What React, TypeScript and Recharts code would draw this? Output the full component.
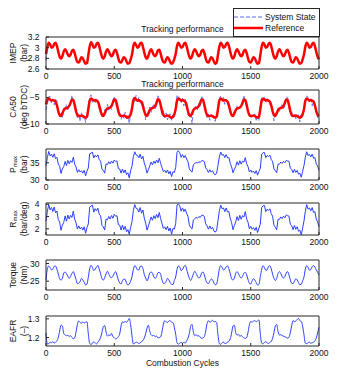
import { LineChart, Line, XAxis, YAxis, Legend } from 'recharts';

// cycle grid: one sample every 10 combustion cycles, 0..2000
const cycleStep = 10;
const xTicks = [0, 500, 1000, 1500, 2000];

const imepRef = [
  2.88, 3.02, 3.09, 3.06, 3.0, 3.01, 3.07, 3.09, 3.03, 2.92, 2.83, 2.79, 2.84, 2.93, 2.97, 2.93, 2.87, 2.84, 2.87, 2.94, 2.96, 2.9, 2.8, 2.73, 2.72, 2.77, 2.82, 2.8, 2.74, 2.7, 2.71,
  2.86, 3.02, 3.1, 3.06, 3.0, 3.01, 3.07, 3.09, 3.03, 2.92, 2.83, 2.79, 2.84, 2.93, 2.97, 2.93, 2.87, 2.84, 2.87, 2.94, 2.96, 2.9, 2.8, 2.73, 2.72, 2.77, 2.82, 2.8, 2.74, 2.7, 2.71, 2.78,
  2.87, 3.03, 3.09, 3.05, 3.0, 3.02, 3.08, 3.09, 3.02, 2.91, 2.82, 2.79, 2.85, 2.93, 2.97, 2.92, 2.86, 2.84, 2.88, 2.95, 2.96, 2.89, 2.79, 2.73, 2.72, 2.78, 2.82, 2.79, 2.73, 2.7, 2.72, 2.79,
  2.88, 3.03, 3.09, 3.05, 3.0, 3.01, 3.07, 3.09, 3.03, 2.92, 2.83, 2.79, 2.84, 2.93, 2.97, 2.93, 2.87, 2.84, 2.87, 2.94, 2.96, 2.9, 2.8, 2.73, 2.72, 2.77, 2.82, 2.8, 2.74, 2.7, 2.72,
  2.87, 3.02, 3.09, 3.06, 3.0, 3.01, 3.07, 3.09, 3.03, 2.92, 2.83, 2.79, 2.84, 2.93, 2.97, 2.93, 2.87, 2.84, 2.87, 2.94, 2.96, 2.9, 2.8, 2.73, 2.72, 2.77, 2.82, 2.8, 2.74, 2.7, 2.71,
  2.86, 3.02, 3.09, 3.06, 3.0, 3.01, 3.07, 3.09, 3.03, 2.92, 2.83, 2.79, 2.84, 2.93, 2.97, 2.93, 2.87, 2.84, 2.87, 2.94, 2.96, 2.9, 2.8, 2.73, 2.72, 2.77, 2.82, 2.8, 2.74, 2.7, 2.71, 2.78,
  2.87, 3.02, 3.09, 3.06, 3.0, 3.01, 3.07, 3.09, 3.03, 2.92, 2.83, 2.78,
];

const imepState = [
  2.76, 3.0, 3.09, 3.05, 3.0, 3.02, 3.07, 3.08, 3.03, 2.91, 2.83, 2.8, 2.84, 2.92, 2.97, 2.93, 2.86, 2.84, 2.88, 2.94, 2.95, 2.9, 2.79, 2.74, 2.72, 2.77, 2.81, 2.8, 2.74, 2.71, 2.71,
  2.85, 3.02, 3.09, 3.06, 3.01, 3.01, 3.06, 3.09, 3.02, 2.92, 2.84, 2.79, 2.84, 2.93, 2.96, 2.93, 2.87, 2.85, 2.87, 2.93, 2.96, 2.9, 2.81, 2.73, 2.73, 2.77, 2.82, 2.79, 2.74, 2.71, 2.71, 2.77,
  2.87, 3.02, 3.09, 3.05, 3.01, 3.02, 3.07, 3.09, 3.02, 2.92, 2.82, 2.8, 2.85, 2.92, 2.97, 2.92, 2.86, 2.85, 2.88, 2.94, 2.96, 2.89, 2.8, 2.73, 2.72, 2.77, 2.82, 2.79, 2.74, 2.7, 2.72, 2.78,
  2.87, 3.03, 3.08, 3.05, 3.0, 3.01, 3.07, 3.08, 3.03, 2.92, 2.83, 2.8, 2.84, 2.93, 2.96, 2.93, 2.87, 2.83, 2.87, 2.94, 2.96, 2.9, 2.8, 2.74, 2.72, 2.77, 2.81, 2.8, 2.74, 2.71, 2.72,
  2.86, 3.02, 3.09, 3.06, 3.0, 3.02, 3.07, 3.09, 3.02, 2.92, 2.83, 2.79, 2.85, 2.93, 2.97, 2.92, 2.87, 2.84, 2.88, 2.94, 2.95, 2.9, 2.8, 2.73, 2.72, 2.78, 2.82, 2.8, 2.73, 2.7, 2.71,
  2.86, 3.02, 3.09, 3.05, 3.0, 3.01, 3.07, 3.09, 3.03, 2.91, 2.83, 2.8, 2.84, 2.93, 2.97, 2.93, 2.86, 2.84, 2.87, 2.94, 2.96, 2.9, 2.8, 2.73, 2.72, 2.77, 2.82, 2.8, 2.74, 2.7, 2.71, 2.79,
  2.87, 3.02, 3.09, 3.06, 3.0, 3.01, 3.07, 3.08, 3.03, 2.92, 2.83, 2.79,
];

const ca50Ref = [
  -6.3, -5.5, -5.2, -5.4, -5.6, -5.5, -5.6, -5.8, -6.5, -7.6, -8.3, -8.5, -8.0, -7.4, -7.1, -7.0, -6.9, -6.6, -6.0, -5.4, -5.5, -6.4, -7.6, -8.3, -8.5, -8.5, -8.4, -8.5, -8.7, -8.8, -8.6,
  -7.2, -5.6, -5.2, -5.4, -5.6, -5.5, -5.6, -5.8, -6.5, -7.6, -8.3, -8.5, -8.0, -7.4, -7.1, -7.0, -6.9, -6.6, -6.0, -5.4, -5.5, -6.4, -7.6, -8.3, -8.5, -8.5, -8.4, -8.5, -8.7, -8.8, -8.6, -8.2,
  -7.1, -5.5, -5.1, -5.4, -5.6, -5.5, -5.7, -5.8, -6.6, -7.6, -8.3, -8.5, -8.0, -7.4, -7.1, -7.0, -6.9, -6.6, -6.0, -5.3, -5.5, -6.4, -7.6, -8.3, -8.5, -8.5, -8.4, -8.5, -8.7, -8.8, -8.6, -8.2,
  -7.2, -5.6, -5.2, -5.4, -5.6, -5.5, -5.6, -5.8, -6.5, -7.6, -8.3, -8.5, -8.0, -7.4, -7.1, -7.0, -6.9, -6.6, -6.0, -5.4, -5.5, -6.4, -7.6, -8.3, -8.5, -8.5, -8.4, -8.5, -8.7, -8.8, -8.6,
  -7.2, -5.6, -5.2, -5.4, -5.6, -5.5, -5.6, -5.8, -6.5, -7.6, -8.3, -8.5, -8.0, -7.4, -7.1, -7.0, -6.9, -6.6, -6.0, -5.4, -5.5, -6.4, -7.6, -8.3, -8.5, -8.5, -8.4, -8.5, -8.7, -8.8, -8.6,
  -7.2, -5.6, -5.2, -5.4, -5.6, -5.5, -5.6, -5.8, -6.5, -7.6, -8.3, -8.5, -8.0, -7.4, -7.1, -7.0, -6.9, -6.6, -6.0, -5.4, -5.5, -6.4, -7.6, -8.3, -8.5, -8.5, -8.4, -8.5, -8.7, -8.8, -8.6, -8.2,
  -7.2, -5.6, -5.2, -5.4, -5.6, -5.5, -5.6, -5.8, -6.5, -7.6, -8.3, -8.5,
];

const ca50State = [
  -7.4, -6.2, -4.9, -4.8, -6.0, -5.3, -6.4, -5.4, -5.6, -8.1, -8.6, -7.9, -8.9, -7.0, -7.3, -6.3, -7.5, -6.3, -6.4, -4.6, -6.0, -6.2, -7.0, -9.0, -8.2, -9.5, -7.9, -8.9, -8.5, -9.7, -8.0,
  -7.6, -5.0, -4.5, -5.9, -5.3, -6.1, -5.1, -6.0, -7.3, -7.0, -7.9, -8.8, -7.3, -7.9, -6.3, -7.4, -6.6, -7.3, -5.5, -4.8, -5.8, -7.2, -7.2, -7.8, -9.1, -8.2, -8.9, -7.8, -9.1, -8.4, -9.9, -8.0,
  -6.9, -5.2, -5.8, -4.6, -5.9, -5.0, -6.0, -6.5, -5.9, -7.3, -9.2, -8.0, -8.2, -6.8, -7.8, -6.6, -6.4, -7.1, -6.6, -4.7, -5.2, -6.8, -8.2, -7.5, -8.8, -7.9, -9.2, -8.3, -8.1, -9.3, -8.3, -8.8,
  -6.9, -4.5, -5.1, -4.8, -6.1, -5.0, -6.6, -5.3, -5.9, -8.3, -8.4, -8.0, -9.9, -7.2, -7.0, -6.5, -7.3, -6.1, -6.6, -4.7, -5.1, -6.4, -7.3, -8.9, -8.1, -9.3, -8.6, -8.7, -8.9, -9.5, -8.2,
  -7.9, -5.3, -4.7, -5.7, -5.0, -6.3, -5.3, -5.8, -7.0, -7.4, -8.1, -8.6, -7.6, -7.6, -6.6, -7.2, -6.9, -7.0, -5.8, -4.6, -5.9, -6.9, -7.5, -8.0, -8.9, -8.4, -8.7, -8.1, -9.3, -8.5, -9.4,
  -6.7, -5.0, -5.9, -4.8, -5.7, -5.2, -6.2, -6.3, -6.1, -7.0, -9.4, -7.8, -8.4, -6.9, -7.6, -6.8, -6.2, -7.3, -6.4, -4.9, -5.0, -6.9, -8.0, -7.7, -8.6, -8.1, -9.0, -8.4, -8.3, -9.6, -8.0, -8.7,
  -6.9, -5.9, -4.7, -5.0, -5.8, -5.1, -6.6, -5.5, -5.9, -7.8, -8.8, -8.2,
];

const pmax = [
  34.2, 36.5, 38.3, 37.0, 37.5, 36.6, 37.6, 36.2, 36.6, 34.6, 34.0, 31.9, 33.2, 33.9, 35.4, 34.2, 35.7, 34.7, 35.6, 35.1, 36.6, 34.6, 33.8, 32.2, 33.0, 32.3, 32.7, 32.0, 32.8, 31.2, 32.6,
  33.5, 37.6, 37.8, 38.1, 36.4, 37.2, 36.7, 37.3, 35.9, 35.5, 33.1, 32.8, 32.0, 34.7, 34.5, 35.3, 34.7, 35.5, 34.9, 35.8, 35.4, 35.5, 33.3, 33.2, 32.0, 33.2, 32.1, 32.9, 31.6, 32.1, 30.6, 32.7,
  34.0, 36.8, 38.2, 37.3, 37.2, 36.4, 37.5, 36.1, 36.9, 34.9, 33.7, 32.0, 33.0, 34.1, 35.2, 34.4, 35.5, 34.8, 35.8, 35.0, 36.3, 34.8, 33.6, 32.4, 32.8, 32.1, 32.9, 31.8, 32.5, 31.0, 32.4, 32.2,
  33.6, 38.1, 38.5, 37.9, 36.6, 37.4, 36.5, 37.1, 36.1, 35.3, 33.3, 32.6, 32.3, 34.5, 34.8, 35.1, 34.9, 35.3, 35.1, 35.6, 35.6, 35.3, 33.5, 33.0, 32.2, 33.0, 32.3, 32.7, 31.8, 31.5, 32.0,
  34.3, 36.7, 38.1, 37.2, 37.4, 36.5, 37.4, 36.4, 36.5, 34.8, 33.8, 32.1, 33.1, 34.0, 35.3, 34.3, 35.6, 34.6, 35.5, 35.2, 36.5, 34.7, 33.9, 32.3, 32.9, 32.2, 32.6, 31.9, 32.7, 31.4, 32.5,
  33.4, 37.5, 37.9, 38.0, 36.5, 37.1, 36.8, 37.2, 36.0, 35.4, 33.2, 32.7, 32.1, 34.6, 34.6, 35.2, 34.8, 35.4, 35.0, 35.7, 35.5, 35.4, 33.4, 33.1, 32.1, 33.1, 32.2, 32.8, 31.7, 32.0, 30.8, 32.5,
  34.2, 36.6, 38.2, 37.1, 37.4, 36.7, 37.5, 36.3, 36.5, 34.7, 34.0, 32.8,
];

const rmax = [
  2.63, 3.42, 3.98, 3.55, 3.74, 3.41, 3.78, 3.3, 3.45, 2.76, 2.55, 1.88, 2.3, 2.52, 3.05, 2.62, 3.12, 2.8, 3.1, 2.92, 3.44, 2.78, 2.5, 1.98, 2.24, 2.0, 2.14, 1.9, 2.17, 1.64, 2.1,
  2.4, 3.76, 3.85, 3.92, 3.36, 3.64, 3.46, 3.68, 3.2, 3.06, 2.28, 2.16, 1.9, 2.8, 2.74, 3.0, 2.8, 3.08, 2.86, 3.18, 3.02, 3.07, 2.34, 2.3, 1.9, 2.31, 1.93, 2.2, 1.76, 1.94, 1.55, 2.12,
  2.57, 3.5, 3.97, 3.67, 3.63, 3.37, 3.73, 3.27, 3.53, 2.87, 2.47, 1.9, 2.23, 2.6, 2.97, 2.7, 3.07, 2.83, 3.17, 2.9, 3.33, 2.83, 2.43, 2.03, 2.17, 1.93, 2.2, 1.83, 2.07, 1.57, 2.03, 1.97,
  2.43, 3.93, 4.03, 3.87, 3.43, 3.7, 3.4, 3.6, 3.27, 3.0, 2.33, 2.1, 2.0, 2.73, 2.83, 2.93, 2.87, 3.0, 2.93, 3.1, 3.1, 3.0, 2.4, 2.23, 1.97, 2.23, 2.0, 2.13, 1.83, 1.73, 1.9,
  2.67, 3.47, 3.93, 3.63, 3.7, 3.4, 3.7, 3.37, 3.4, 2.83, 2.5, 1.93, 2.27, 2.57, 3.0, 2.67, 3.1, 2.77, 3.07, 2.97, 3.4, 2.8, 2.53, 2.0, 2.2, 1.97, 2.1, 1.87, 2.13, 1.7, 2.07,
  2.37, 3.73, 3.87, 3.9, 3.4, 3.6, 3.5, 3.63, 3.23, 3.03, 2.3, 2.13, 1.93, 2.77, 2.77, 2.97, 2.83, 3.03, 2.9, 3.13, 3.07, 3.03, 2.37, 2.27, 1.93, 2.27, 1.97, 2.17, 1.8, 1.9, 1.52, 2.07,
  2.63, 3.43, 3.97, 3.6, 3.7, 3.47, 3.73, 3.33, 3.4, 2.8, 2.57, 2.17,
];

const torque = [
  25.3, 28.5, 29.3, 28.8, 28.2, 28.4, 29.2, 29.3, 28.4, 27.1, 25.7, 25.3, 25.8, 27.3, 27.6, 27.1, 26.4, 25.8, 26.4, 27.2, 27.7, 26.7, 25.5, 24.3, 24.4, 24.9, 25.8, 25.3, 24.7, 23.9, 24.2,
  26.1, 28.5, 29.5, 28.9, 28.0, 28.4, 29.0, 29.5, 28.4, 27.1, 25.7, 25.3, 26.0, 27.1, 27.8, 27.1, 26.2, 26.0, 26.4, 27.2, 27.7, 26.7, 25.3, 24.5, 24.2, 25.1, 25.6, 25.5, 24.5, 23.9, 24.2, 25.0,
  26.3, 28.3, 29.4, 29.0, 28.2, 28.2, 29.2, 29.3, 28.6, 26.9, 25.9, 25.1, 25.9, 27.3, 27.6, 27.3, 26.2, 25.8, 26.3, 27.4, 27.5, 26.9, 25.3, 24.4, 24.4, 24.9, 25.8, 25.3, 24.6, 24.1, 24.0, 25.2,
  26.2, 28.4, 29.3, 29.0, 28.0, 28.3, 29.1, 29.5, 28.4, 27.0, 25.8, 25.2, 26.0, 27.1, 27.8, 27.2, 26.4, 25.9, 26.2, 27.3, 27.6, 26.8, 25.4, 24.5, 24.3, 25.0, 25.6, 25.4, 24.5, 24.0, 24.2,
  26.1, 28.5, 29.4, 28.9, 28.2, 28.4, 29.1, 29.3, 28.5, 27.1, 25.7, 25.3, 25.9, 27.2, 27.7, 27.1, 26.3, 25.9, 26.4, 27.3, 27.5, 26.8, 25.5, 24.4, 24.2, 25.1, 25.7, 25.3, 24.6, 23.9, 24.1,
  26.3, 28.4, 29.4, 28.9, 28.1, 28.2, 29.2, 29.4, 28.5, 27.0, 25.8, 25.2, 25.8, 27.2, 27.7, 27.2, 26.3, 25.9, 26.3, 27.3, 27.7, 26.8, 25.4, 24.4, 24.3, 25.0, 25.7, 25.4, 24.6, 24.0, 24.1, 25.1,
  26.2, 28.4, 29.4, 28.9, 28.1, 28.3, 29.1, 29.4, 29.0, 28.2, 27.5, 26.8,
];

const eafr = [
  1.225, 1.165, 1.168, 1.175, 1.172, 1.178, 1.17, 1.176, 1.182, 1.2, 1.235, 1.266, 1.262, 1.222, 1.214, 1.21, 1.212, 1.206, 1.21, 1.2, 1.195, 1.198, 1.23, 1.27, 1.288, 1.281, 1.276, 1.284, 1.278, 1.282, 1.284,
  1.22, 1.168, 1.163, 1.17, 1.178, 1.172, 1.166, 1.175, 1.185, 1.2, 1.228, 1.258, 1.264, 1.23, 1.208, 1.214, 1.21, 1.222, 1.205, 1.2, 1.193, 1.196, 1.205, 1.22, 1.262, 1.284, 1.28, 1.286, 1.282, 1.29, 1.302, 1.268,
  1.21, 1.166, 1.17, 1.175, 1.173, 1.168, 1.172, 1.178, 1.184, 1.198, 1.22, 1.25, 1.266, 1.234, 1.215, 1.21, 1.212, 1.205, 1.208, 1.198, 1.2, 1.204, 1.232, 1.272, 1.29, 1.284, 1.28, 1.288, 1.29, 1.282, 1.28, 1.255,
  1.218, 1.172, 1.165, 1.17, 1.174, 1.17, 1.175, 1.17, 1.182, 1.196, 1.222, 1.26, 1.27, 1.228, 1.21, 1.216, 1.208, 1.21, 1.202, 1.196, 1.198, 1.205, 1.235, 1.275, 1.29, 1.282, 1.286, 1.292, 1.284, 1.286, 1.28,
  1.215, 1.168, 1.164, 1.172, 1.176, 1.168, 1.17, 1.176, 1.18, 1.194, 1.224, 1.262, 1.266, 1.226, 1.213, 1.218, 1.206, 1.212, 1.204, 1.198, 1.196, 1.2, 1.228, 1.268, 1.286, 1.282, 1.288, 1.29, 1.284, 1.29, 1.294,
  1.22, 1.17, 1.166, 1.174, 1.178, 1.172, 1.169, 1.174, 1.18, 1.196, 1.226, 1.262, 1.27, 1.232, 1.214, 1.215, 1.21, 1.208, 1.205, 1.2, 1.197, 1.202, 1.226, 1.264, 1.29, 1.286, 1.288, 1.296, 1.302, 1.29, 1.286, 1.26,
  1.215, 1.17, 1.168, 1.172, 1.176, 1.17, 1.172, 1.175, 1.182, 1.198, 1.225, 1.255,
];

const rows = imepRef.map((v, i) => ({
  cycle: i * cycleStep,
  imepRef: v,
  imepState: imepState[i],
  ca50Ref: ca50Ref[i],
  ca50State: ca50State[i],
  pmax: pmax[i],
  rmax: rmax[i],
  torque: torque[i],
  eafr: eafr[i],
}));

const FONT = '"Liberation Sans", Arial, Helvetica, sans-serif';
const FS = 8.5;
const AXIS = '#262626';
const TEXT = '#111';
const BLUE = '#2a3fff';
const BLUE_DASH = '#5a68ff';
const RED = '#ff0000';
const W = 352;
const PLOT_LEFT = 46;
const PLOT_RIGHT = 319;

const fmt = (v: number) => String(v).replace('-', '\u2212');

function yLabel(line1: any, line2: string) {
  return (props: any) => {
    const vb = props.viewBox;
    const cy = vb.y + vb.height / 2;
    return (
      <g fontFamily={FONT} fontSize={FS} fill={TEXT}>
        <text x={12.5} y={cy} transform={`rotate(-90 12.5 ${cy})`} textAnchor="middle" dominantBaseline="central">
          {line1}
        </text>
        <text x={23.5} y={cy} transform={`rotate(-90 23.5 ${cy})`} textAnchor="middle" dominantBaseline="central">
          {line2}
        </text>
      </g>
    );
  };
}

function topTitle(gap: number) {
  return (props: any) => {
    const vb = props.viewBox;
    return (
      <text x={vb.x + vb.width / 2} y={vb.y + 1 - gap} textAnchor="middle" dominantBaseline="central"
        fontFamily={FONT} fontSize={FS} fill={TEXT}>
        Tracking performance
      </text>
    );
  };
}

const xTitle = (props: any) => {
  const vb = props.viewBox;
  return (
    <text x={vb.x + vb.width / 2} y={vb.y + 17} textAnchor="middle" dominantBaseline="central"
      fontFamily={FONT} fontSize={FS} fill={TEXT}>
      Combustion Cycles
    </text>
  );
};

const LegendBox = () => (
  <div style={{
    width: 85, height: 25, border: `1px solid ${AXIS}`, background: '#fff',
    fontFamily: FONT, fontSize: FS, color: TEXT, paddingTop: 2, boxSizing: 'content-box',
  }}>
    <div style={{ display: 'flex', alignItems: 'center', height: 11.5 }}>
      <svg width={30} height={6}><line x1={0} x2={29} y1={3} y2={3} stroke={BLUE_DASH} strokeDasharray="4 2" /></svg>
      <span style={{ marginLeft: 1, lineHeight: '10px' }}>System State</span>
    </div>
    <div style={{ display: 'flex', alignItems: 'center', height: 11.5 }}>
      <svg width={30} height={6}><line x1={0} x2={29} y1={3} y2={3} stroke={RED} strokeWidth={2.5} /></svg>
      <span style={{ marginLeft: 1, lineHeight: '10px' }}>Reference</span>
    </div>
  </div>
);

type PanelProps = {
  plotTop: number;
  plotHeight: number;
  above: number;
  yDomain: [number, number];
  yTicks: number[];
  label: any;
  titleGap?: number;
  xLabel?: boolean;
  children: any;
};

function Panel({ plotTop, plotHeight, above, yDomain, yTicks, label, titleGap, xLabel, children }: PanelProps) {
  const xh = xLabel ? 30 : 20;
  const height = above + plotHeight + xh;
  const tickStyle = { fontSize: FS, fill: TEXT, fontFamily: FONT };
  return (
    <div style={{ position: 'absolute', left: 0, top: plotTop - above }}>
      <LineChart width={W} height={height} data={rows}
        margin={{ top: above - 1, right: W - PLOT_RIGHT - 1, bottom: 0, left: 0 }}>
        <XAxis xAxisId="b" dataKey="cycle" type="number" domain={[0, 2000]} ticks={xTicks} interval={0}
          height={xh} tickSize={-3} tickMargin={6.5} stroke={AXIS} tick={tickStyle}
          label={xLabel ? xTitle : undefined} />
        <XAxis xAxisId="t" orientation="top" dataKey="cycle" type="number" domain={[0, 2000]} ticks={xTicks}
          interval={0} height={1} tickSize={-3} tick={false} stroke={AXIS}
          label={titleGap ? topTitle(titleGap) : undefined} />
        <YAxis yAxisId="l" type="number" domain={yDomain} ticks={yTicks} interval={0} allowDataOverflow
          width={PLOT_LEFT} tickSize={-3} tickMargin={9.5} stroke={AXIS} tick={tickStyle}
          tickFormatter={fmt} label={yLabel(label[0], label[1])} />
        <YAxis yAxisId="r" orientation="right" type="number" domain={yDomain} ticks={yTicks} interval={0}
          allowDataOverflow width={1} tickSize={-3} tick={false} stroke={AXIS} />
        {children}
      </LineChart>
    </div>
  );
}

const sub = (main: string) => (
  <>
    {main}
    <tspan fontSize={6} dy={2.5}>max</tspan>
  </>
);

export default function App() {
  return (
    <div style={{ position: 'absolute', left: 0, top: 0, width: W, height: 390, background: '#fff', overflow: 'hidden' }}>
      <Panel plotTop={37} plotHeight={32} above={37} yDomain={[2.6, 3.2]} yTicks={[2.6, 2.8, 3, 3.2]}
        label={['IMEP', '(bar)']} titleGap={8}>
        <Line xAxisId="b" yAxisId="l" dataKey="imepState" type="linear" stroke={BLUE_DASH} strokeWidth={1}
          strokeDasharray="4 2" dot={false} activeDot={false} isAnimationActive={false} />
        <Line xAxisId="b" yAxisId="l" dataKey="imepRef" type="monotone" stroke={RED} strokeWidth={2.5}
          dot={false} activeDot={false} isAnimationActive={false} />
        <Legend layout="horizontal" verticalAlign="middle" align="center" content={() => <LegendBox />}
          wrapperStyle={{ left: 233, top: 8, width: 87, height: 27 }} />
      </Panel>
      <Panel plotTop={90} plotHeight={34} above={20} yDomain={[-10, -3.6]} yTicks={[-10, -5]}
        label={['CA50', '(deg bTDC)']} titleGap={6}>
        <Line xAxisId="b" yAxisId="l" dataKey="ca50State" type="linear" stroke={BLUE_DASH} strokeWidth={0.9}
          strokeDasharray="4 2" dot={false} activeDot={false} isAnimationActive={false} />
        <Line xAxisId="b" yAxisId="l" dataKey="ca50Ref" type="monotone" stroke={RED} strokeWidth={2.5}
          dot={false} activeDot={false} isAnimationActive={false} />
      </Panel>
      <Panel plotTop={149} plotHeight={31} above={20} yDomain={[30, 39]} yTicks={[30, 35]}
        label={[sub('P'), '(bar)']}>
        <Line xAxisId="b" yAxisId="l" dataKey="pmax" type="linear" stroke={BLUE} strokeWidth={1}
          dot={false} activeDot={false} isAnimationActive={false} />
      </Panel>
      <Panel plotTop={203} plotHeight={32} above={20} yDomain={[1.5, 4.1]} yTicks={[2, 3, 4]}
        label={[sub('R'), '(bar/deg)']}>
        <Line xAxisId="b" yAxisId="l" dataKey="rmax" type="linear" stroke={BLUE} strokeWidth={1}
          dot={false} activeDot={false} isAnimationActive={false} />
      </Panel>
      <Panel plotTop={260} plotHeight={30} above={20} yDomain={[22.5, 31]} yTicks={[25, 30]}
        label={['Torque', '(Nm)']}>
        <Line xAxisId="b" yAxisId="l" dataKey="torque" type="monotone" stroke={BLUE} strokeWidth={1}
          dot={false} activeDot={false} isAnimationActive={false} />
      </Panel>
      <Panel plotTop={316} plotHeight={30} above={20} yDomain={[1.155, 1.315]} yTicks={[1.2, 1.3]}
        label={['EAFR', '(\u2013)']} xLabel>
        <Line xAxisId="b" yAxisId="l" dataKey="eafr" type="monotone" stroke={BLUE} strokeWidth={1}
          dot={false} activeDot={false} isAnimationActive={false} />
      </Panel>
    </div>
  );
}
